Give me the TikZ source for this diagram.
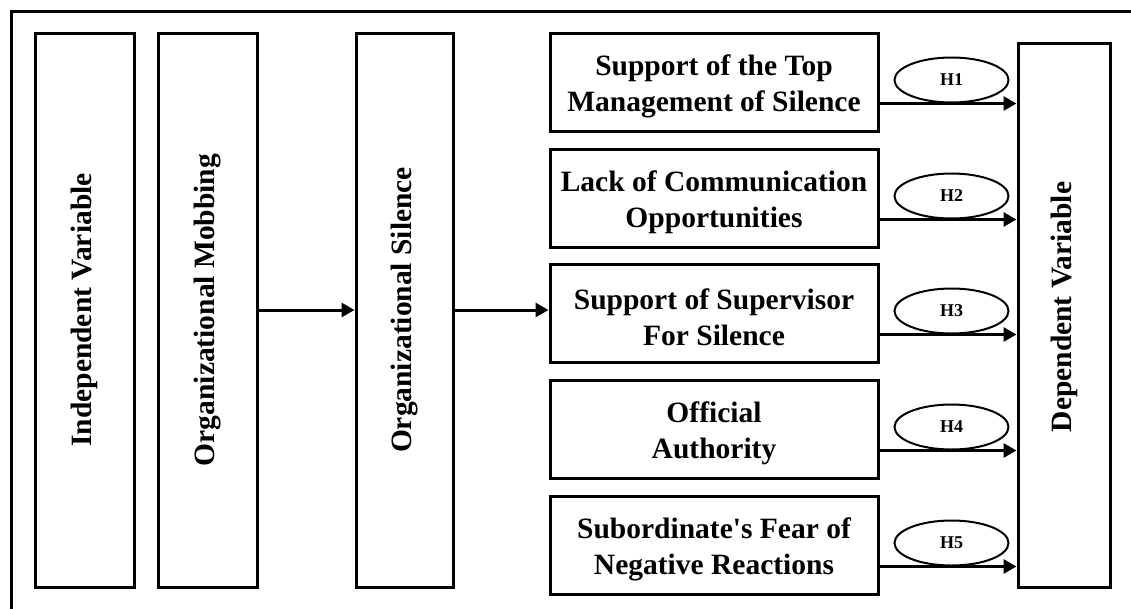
\documentclass[tikz,border=0pt]{standalone}
\usepackage{fontspec}
\setmainfont{Liberation Serif}[Ligatures=TeXOff]
\usetikzlibrary{shapes.geometric,arrows.meta}
\begin{document}
\begin{tikzpicture}[x=1pt,y=-1pt,
  box/.style={draw,line width=3pt,inner sep=0pt},
  tall/.style={box,minimum height=554pt},
  lab/.style={font=\bfseries\fontsize{29.5}{36}\selectfont},
  small/.style={box,minimum width=328pt,minimum height=98pt},
  stxt/.style={lab,align=center,inner sep=0pt},
  arr/.style={line width=3pt,-{Triangle[length=13pt,width=14pt]}},
  hyp/.style={draw,ellipse,line width=2pt,minimum width=114pt,minimum height=45pt,inner sep=0pt,anchor=south,font=\bfseries\fontsize{18}{18}\selectfont}]
\useasboundingbox (0,0) rectangle (1131,608);
\begin{scope}
\clip (0,0) rectangle (1131,608);
\draw[line width=3pt] (11,640) -- (11,11) -- (1160,11);
\end{scope}
% tall boxes
\node[tall,minimum width=99pt] (iv) at (84.5,310) {};
\node[lab,rotate=90] (ivt) at (iv.center) {Independent Variable};
\node[tall,minimum width=99pt] (om) at (207.5,310) {};
\node[lab,rotate=90] (omt) at (om.center) {Organizational Mobbing};
\node[tall,minimum width=97pt] (os) at (404.5,310) {};
\node[lab,rotate=90] (ost) at (os.center) {Organizational Silence};
\node[box,minimum width=92pt,minimum height=544pt] (dep) at (1064,315) {};
\node[lab,rotate=90] (dept) at ([yshift=8pt]dep.center) {Dependent Variable};
% small boxes
\node[small] (s1) at (714,82) {};
\node[small] (s2) at (714,198) {};
\node[small] (s3) at (714,313) {};
\node[small] (s4) at (714,429) {};
\node[small] (s5) at (714,545) {};
\node[stxt] (t1) at ([yshift=-4pt]s1.center) {Support of the Top\\Management of Silence};
\node[stxt] (t2) at ([yshift=-4pt]s2.center) {Lack of Communication\\Opportunities};
\node[stxt] (t3) at ([yshift=-4pt]s3.center) {Support of Supervisor\\For Silence};
\node[stxt] (t4) at ([yshift=-4pt]s4.center) {Official\\Authority};
\node[stxt] (t5) at ([yshift=-4pt]s5.center) {Subordinate's Fear of\\Negative Reactions};
% main arrows
\draw[arr] (om.east) -- (os.west);
\draw[arr] (os.east) -- (os.east -| s3.west);
% hypothesis arrows
\foreach \k in {1,...,5}{
  \coordinate (a\k) at ([yshift=29pt]s\k.south east);
  \draw[arr] (a\k) -- (a\k -| dep.west);
  \node[hyp] (h\k) at ([xshift=72pt]a\k) {H\k};
}
\end{tikzpicture}
\end{document}
